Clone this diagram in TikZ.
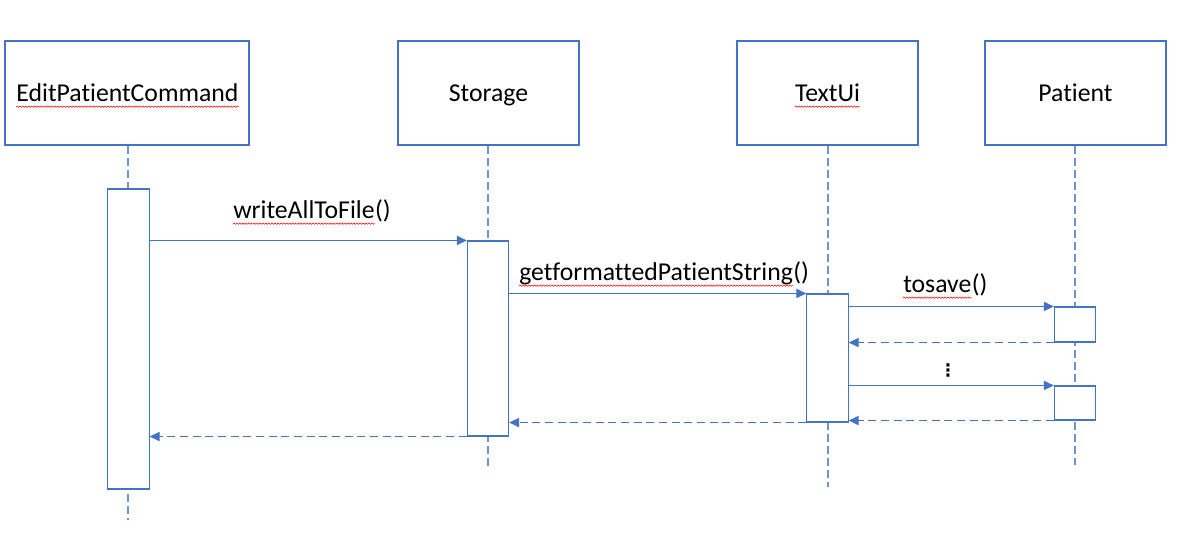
\documentclass[tikz,border=0pt]{standalone}
\usepackage{fontspec}
\setmainfont{Carlito}[Ligatures={NoCommon}]
\newfontfamily\symfont{DejaVu Sans}
\usetikzlibrary{arrows.meta,decorations.pathmorphing}
\definecolor{umlblue}{HTML}{4472C4}
\definecolor{lifeblue}{HTML}{6F93D3}
\tikzset{
  head/.style={draw=umlblue,line width=0.8pt,minimum width=#1,minimum height=78pt,inner sep=0pt},
  head/.default=135.75pt,
  headtxt/.style={inner sep=0pt,anchor=base,font=\fontsize{19.3}{23}\selectfont},
  actbox/.style={draw=umlblue,line width=0.8pt,fill=white,minimum width=31pt,inner sep=0pt},
  lifeline/.style={draw=lifeblue,line width=0.8pt,dash pattern=on 6pt off 3pt},
  msg/.style={draw=umlblue,line width=0.8pt,-{Triangle[length=7.5pt,width=7pt]}},
  reply/.style={msg,dash pattern=on 6pt off 3.5pt},
  lbl/.style={inner sep=0pt,anchor=base west,font=\fontsize{19.3}{23}\selectfont},
  squig/.style={draw=red,line width=0.4pt,decorate,decoration={snake,amplitude=0.5pt,segment length=2.2pt}}
}
\begin{document}
\begin{tikzpicture}[x=0.75pt,y=-0.75pt]
  \useasboundingbox[fill=white] (0,0) rectangle (1190,541);
  % heads
  \node[head=183pt] (epc) at (127,93) {};
  \node[head] (sto) at (488.5,93) {};
  \node[head] (tui) at (827.5,93) {};
  \node[head] (pat) at (1075.5,93) {};
  \node[headtxt] (epcTxt) at (127.5,102) {EditPatientCommand};
  \node[headtxt] (stoTxt) at (488.5,102) {Storage};
  \node[headtxt] (tuiTxt) at (827.5,102) {TextUi};
  \node[headtxt] (patTxt) at (1075.5,102) {Patient};
  % lifeline ends
  \coordinate (epcEnd) at (128,520);
  \coordinate (stoEnd) at (488,467);
  \coordinate (tuiEnd) at (828,487);
  \coordinate (patEnd) at (1075,465);
  \draw[lifeline] (epc.south -| epcEnd) -- (epcEnd);
  \draw[lifeline] (sto.south -| stoEnd) -- (stoEnd);
  \draw[lifeline] (tui.south -| tuiEnd) -- (tuiEnd);
  \draw[lifeline] (pat.south -| patEnd) -- (patEnd);
  % activations
  \node[actbox,minimum height=225pt] (actEpc) at (128.5,339) {};
  \node[actbox,minimum height=146.25pt] (actSto) at (488,338.5) {};
  \node[actbox,minimum height=96pt] (actTui) at (827.5,358) {};
  \node[actbox,minimum height=26.25pt] (actPatA) at (1075,324.5) {};
  \node[actbox,minimum height=25.5pt] (actPatB) at (1075,403) {};
  % messages
  \draw[msg] (actEpc.east |- actSto.north west) -- (actSto.north west);
  \draw[msg] (actSto.east |- actTui.north west) -- (actTui.north west);
  \draw[msg] (actTui.east |- actPatA.north west) -- (actPatA.north west);
  \draw[reply] (actPatA.south west) -- (actTui.east |- actPatA.south west);
  \draw[msg] (actTui.east |- actPatB.north west) -- (actPatB.north west);
  \draw[reply] (actPatB.south west) -- (actTui.east |- actPatB.south west);
  \draw[reply] (actTui.south west) -- (actSto.east |- actTui.south west);
  \draw[reply] (actSto.south west) -- (actEpc.east |- actSto.south west);
  % labels
  \node[lbl] (writeLbl) at (233,219) {writeAllToFile};
  \node[lbl] (writePar) at (writeLbl.base east) {()};
  \node[lbl] (fmtLbl) at (519,281) {getformattedPatientString};
  \node[lbl] (fmtPar) at (fmtLbl.base east) {()};
  \node[lbl] (saveLbl) at (903,293) {tosave};
  \node[lbl] (savePar) at (saveLbl.base east) {()};
  \node[inner sep=0pt,font=\symfont\bfseries\fontsize{13}{13}\selectfont] (dots) at (948,370) {⋮};
  % spelling marks
  \draw[squig] ([yshift=-3.5pt]epcTxt.base west) -- ([yshift=-3.5pt]epcTxt.base east);
  \draw[squig] ([yshift=-3.5pt]tuiTxt.base west) -- ([yshift=-3.5pt]tuiTxt.base east);
  \draw[squig] ([yshift=-3.5pt]writeLbl.base west) -- ([yshift=-3.5pt]writeLbl.base east);
  \draw[squig] ([yshift=-3.5pt]fmtLbl.base west) -- ([yshift=-3.5pt]fmtLbl.base east);
  \draw[squig] ([yshift=-3.5pt]saveLbl.base west) -- ([yshift=-3.5pt]saveLbl.base east);
\end{tikzpicture}
\end{document}
